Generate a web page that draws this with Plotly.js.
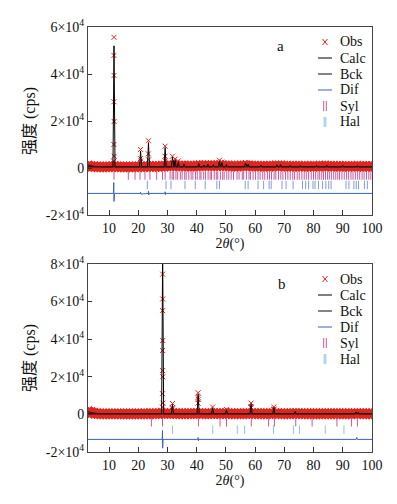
<!DOCTYPE html>
<html><head><meta charset="utf-8">
<script src="https://cdn.plot.ly/plotly-3.0.1.min.js"></script>
<style>html,body{margin:0;padding:0;background:#fff}</style>
</head><body><div id="chart" style="width:397px;height:504px"></div>
<script>
// ---------- Panel a ----------
// observed background, sampled every 1 degree from 3 to 100
var obsBgA = [900,700,600,500,500,450,450,500,
 600,700,500,450,450,500,450,500,500,550,
 600,550,600,700,600,650,700,750,800,900,
 900,1000,900,800,900,850,800,750,800,900,
 900,950,1000,1000,950,900,950,1100,1000,900,
 850,800,750,800,850,900,1000,900,800,800,
 750,800,750,700,750,800,900,850,900,800,
 750,700,750,800,750,700,750,700,700,750,
 700,750,800,850,800,750,700,700,750,700,
 700,650,700,700,750,700,650,700,700,650];
var peakPosA  = [11.7,20.8,23.5,29.2,31.7,32.6,33.7,35.7,40.7,42.5,43.8,45.7,47.8,48.6,50.2,56.7,57.6,62.0,67.5,68.7,72.0,75.5,81.0,84.5,90.0,95.0];
var peakObsA  = [55600,7900,11600,9300,5000,3800,3000,1900,2200,1500,1800,1600,3300,2500,1700,2300,1800,1400,1500,1600,1300,1300,1300,1400,1300,1200];
var peakCalcA = [52000,7200,10800,8700,4600,3400,2700,1700,2000,1300,1600,1400,3000,2300,1500,2100,1600,1200,1300,1400,1100,1100,1100,1200,1100,1000];
var flankXA = [11.62,11.65,11.67,11.68,11.72,11.74,11.76,20.75,20.85,23.45,23.55,29.15,29.25];
var flankYA = [2900,10000,28200,47900,39400,19800,5000,4000,3000,6000,3500,5000,3000];
var calcBaseA = 500;
var bckXA = [2.8,5,8,12,20,30,50,70,100];
var bckYA = [1200,700,500,450,450,500,550,500,450];
var difXA = [2.8,11.5,11.62,11.7,11.8,11.9,20.7,20.8,20.9,23.4,23.5,23.6,23.7,29.1,29.2,29.3,29.4,100];
var difYA = [-10800,-10800,-6200,-14200,-9500,-10800,-10800,-10300,-11100,-10800,-9900,-11500,-10800,-10800,-10100,-11300,-10800,-10800];
var sylPosA = [11.7,16.6,18.9,20.6,22.3,24.0,26.3,28.3,29.2,30.9,31.6,32.1,32.9,33.5,34.4,35.0,35.9,36.4,37.3,38.1,38.7,39.6,40.2,41.1,41.5,42.4,43.0,43.9,44.6,45.1,46.0,46.7,47.2,48.1,48.9,49.4,50.3,51.0,51.8,52.6,53.8,54.5,55.6,56.1,57.0,57.9,58.4,59.3,60.1,61.0,61.7,62.6,63.3,64.2,64.9,65.6,66.5,67.1,68.0,68.8,69.5,70.4,71.2,72.0,72.9,73.5,74.4,75.1,76.0,76.8,77.5,78.3,79.2,80.0,80.7,81.5,82.1,82.8,83.4,84.1,84.8,85.4,86.1,86.9,87.6,88.3,88.9,89.7,90.5,91.3,92.0,92.8,93.5,94.3,95.1,95.8,96.6,97.3,98.1,98.9,99.6];
var halPosA = [23.1,29.5,31.2,36.0,39.5,42.9,46.9,47.8,56.6,57.6,61.0,62.9,64.8,65.5,69.2,70.6,73.0,76.2,77.3,78.3,79.8,80.5,81.7,83.1,84.2,85.2,86.0,91.1,92.1,93.8,94.6,95.4,97.4,98.4];
var sylRowA = -3200, halRowA = -7200;

// ---------- Panel b ----------
var obsBgB = [1500,1000,600,400,300,300,300,300,
 300,300,250,300,300,300,250,300,300,300,
 300,350,300,350,400,350,400,600,500,400,
 400,500,400,350,350,350,400,350,400,500,
 500,400,350,350,400,500,400,350,400,500,
 350,350,350,400,350,350,400,450,500,400,
 350,350,350,350,400,450,500,400,350,350,
 350,350,400,450,400,350,350,350,350,350,
 350,350,350,350,350,350,350,350,350,350,
 350,350,350,400,450,400,350,350,350,350];
var peakPosB  = [28.35,31.7,40.5,45.45,50.2,58.6,66.4,73.7,94.5,95.3];
var peakObsB  = [74600,5800,11500,3900,2700,6000,3900,1800,1500,1400];
var peakCalcB = [86000,5300,10800,3500,2400,5600,3600,1600,1300,1200];
var flankXB = [28.28,28.30,28.32,28.33,28.34,28.37,28.38,28.40,28.42,31.66,31.74,40.45,40.48,40.53,58.55,58.65,66.35,66.45];
var flankYB = [3900,11000,23300,34000,55200,61400,39300,20000,6000,3500,3000,6000,9000,8000,4000,3500,2500,2800];
var calcBaseB = 300;
var bckXB = [2.8,4,6,10,30,60,100];
var bckYB = [1500,900,400,300,300,300,300];
var difXB = [2.8,28.2,28.3,28.35,28.4,28.5,40.4,40.5,40.6,40.7,94.6,94.8,95.0,100];
var difYB = [-13300,-13300,-8500,-18000,-11000,-13300,-13300,-12300,-14000,-13300,-13300,-12300,-13300,-13300];
var sylPosB = [24.5,28.3,40.6,48.0,50.2,58.7,64.6,66.6,73.9,79.5,88.0,93.0,95.0];
var halPosB = [31.7,45.5,53.9,56.4,66.3,73.1,75.2,84.0,90.4];
var sylRowB = -4200, halRowB = -8100;

// ---------- labels ----------
var xTickVals = [10,20,30,40,50,60,70,80,90,100];
var yTickValsA = [-20000,0,20000,40000,60000];
var yTickTextA = ['-2×10<sup>4</sup>','0','2×10<sup>4</sup>','4×10<sup>4</sup>','6×10<sup>4</sup>'];
var yTickValsB = [-20000,0,20000,40000,60000,80000];
var yTickTextB = ['-2×10<sup>4</sup>','0','2×10<sup>4</sup>','4×10<sup>4</sup>','6×10<sup>4</sup>','8×10<sup>4</sup>'];
var names = ['Obs','Calc','Bck','Dif','Syl','Hal'];
var panelLabels = ['a','b'];

var SERIF = 'Liberation Serif, Times New Roman, serif';
var RED = '#e0261f', BLUE = '#3a62c4', SYL = '#c45c9e', HAL = '#8ec3e3', HALA = '#7f9fd4';

function calcLine(pos, vals, base) {
  var x = [2.8], y = [base];
  for (var i = 0; i < pos.length; i++) {
    x.push(pos[i] - 0.35, pos[i], pos[i] + 0.35);
    y.push(base, vals[i], base);
  }
  x.push(100); y.push(base);
  return {x: x, y: y};
}
function rowVals(pos, v) { return pos.map(function () { return v; }); }

function panel(xa, ya, d) {
  var c = calcLine(d.pkPos, d.pkCalc, d.base);
  return [
    {type:'scatter', mode:'markers', x0:3, dx:1, y:d.bg, xaxis:xa, yaxis:ya,
     marker:{symbol:'x', size:10, color:RED, line:{width:0}}, hoverinfo:'skip'},
    {type:'scatter', mode:'markers', x:d.pkPos.concat(d.fx), y:d.pkObs.concat(d.fy), xaxis:xa, yaxis:ya,
     marker:{symbol:'x-thin-open', size:5, color:RED, line:{width:1, color:RED}}},
    {type:'scatter', mode:'lines', x:c.x, y:c.y, xaxis:xa, yaxis:ya, name:names[1],
     line:{color:'#000', width:1}},
    {type:'scatter', mode:'lines', x:d.bckX, y:d.bckY, xaxis:xa, yaxis:ya, name:names[2],
     line:{color:'#222', width:1.2}},
    {type:'scatter', mode:'lines', x:d.difX, y:d.difY, xaxis:xa, yaxis:ya, name:names[3],
     line:{color:BLUE, width:1}},
    {type:'scatter', mode:'markers', x:d.syl, y:rowVals(d.syl, d.sylRow), xaxis:xa, yaxis:ya, name:names[4],
     marker:{symbol:'line-ns-open', size:6, color:SYL, line:{width:1, color:SYL}}},
    {type:'scatter', mode:'markers', x:d.hal, y:rowVals(d.hal, d.halRow), xaxis:xa, yaxis:ya, name:names[5],
     marker:{symbol:'line-ns-open', size:6, color:d.halColor, line:{width:1, color:d.halColor}}}
  ];
}

var traces = panel('x','y',{bg:obsBgA, pkPos:peakPosA, pkObs:peakObsA, pkCalc:peakCalcA, fx:flankXA, fy:flankYA,
  base:calcBaseA, bckX:bckXA, bckY:bckYA, difX:difXA, difY:difYA, syl:sylPosA, hal:halPosA, sylRow:sylRowA, halRow:halRowA, halColor:HALA})
 .concat(panel('x2','y2',{bg:obsBgB, pkPos:peakPosB, pkObs:peakObsB, pkCalc:peakCalcB, fx:flankXB, fy:flankYB,
  base:calcBaseB, bckX:bckXB, bckY:bckYB, difX:difXB, difY:difYB, syl:sylPosB, hal:halPosB, sylRow:sylRowB, halRow:halRowB, halColor:HAL}));

// ---------- manual legend (pixel layout -> paper coords) ----------
var ML = 88, PW = 284, PB = 452, PH = 425;
function px(x) { return (x - ML) / PW; }
function py(y) { return (PB - y) / PH; }
var annotations = [], shapes = [];
function seg(x0, y0, x1, y1, color, w) {
  shapes.push({type:'line', xref:'paper', yref:'paper', x0:px(x0), y0:py(y0), x1:px(x1), y1:py(y1),
    line:{color:color, width:w}});
}
function legendBlock(top, halColor) {
  var step = 16, sx = 325;
  for (var i = 0; i < names.length; i++) {
    var y = top + i * step;
    annotations.push({xref:'paper', yref:'paper', x:px(338), y:py(y), xanchor:'left', yanchor:'middle',
      text:names[i], showarrow:false, font:{family:SERIF, size:14, color:'#111'}});
  }
  var y0 = top;
  seg(sx - 2.5, y0 - 3, sx + 2.5, y0 + 3, RED, 1);
  seg(sx - 2.5, y0 + 3, sx + 2.5, y0 - 3, RED, 1);
  seg(318, top + step, 332, top + step, '#000', 1);
  seg(318, top + 2 * step, 332, top + 2 * step, '#333', 1.2);
  seg(318, top + 3 * step, 332, top + 3 * step, BLUE, 1);
  seg(sx - 1.3, top + 4 * step - 5, sx - 1.3, top + 4 * step + 5, SYL, 1);
  seg(sx + 1.3, top + 4 * step - 5, sx + 1.3, top + 4 * step + 5, SYL, 1);
  seg(sx - 0.8, top + 5 * step - 5, sx - 0.8, top + 5 * step + 5, halColor, 1);
  seg(sx + 0.8, top + 5 * step - 5, sx + 0.8, top + 5 * step + 5, halColor, 1);
}
legendBlock(42, HAL);
legendBlock(279, HAL);
annotations.push({xref:'x', yref:'y', x:68.6, y:51800, text:panelLabels[0], showarrow:false, font:{family:SERIF, size:15, color:'#111'}});
annotations.push({xref:'x2', yref:'y2', x:69.2, y:69500, text:panelLabels[1], showarrow:false, font:{family:SERIF, size:15, color:'#111'}});

function xaxis(anchor) {
  return {anchor:anchor, range:[2.8,100], tickvals:xTickVals, ticks:'inside', ticklen:5, tickcolor:'#333',
    showline:true, mirror:true, linecolor:'#444', linewidth:1, showgrid:false, zeroline:false,
    tickfont:{family:SERIF, size:14, color:'#111'},
    title:{text:'2<i>θ</i>(°)', font:{family:SERIF, size:14, color:'#111'}, standoff:2}};
}
function yaxis(anchor, domain, range, vals, text) {
  return {anchor:anchor, domain:domain, range:range, tickvals:vals, ticktext:text, ticks:'inside', ticklen:4, tickcolor:'#333',
    showline:true, mirror:true, linecolor:'#444', linewidth:1, showgrid:false, zeroline:false,
    tickfont:{family:SERIF, size:14, color:'#111'},
    title:{text:'强度 (cps)', font:{family:SERIF + ', Noto Sans CJK SC', size:16, color:'#111'}, standoff:6}};
}

var layout = {
  width:397, height:504, margin:{l:88, r:25, t:27, b:52},
  paper_bgcolor:'#fff', plot_bgcolor:'#fff', showlegend:false,
  xaxis: xaxis('y'),
  xaxis2: xaxis('y2'),
  yaxis: yaxis('x', [0.5576,1], [-20000,60000], yTickValsA, yTickTextA),
  yaxis2: yaxis('x2', [0,0.4424], [-20000,80000], yTickValsB, yTickTextB),
  annotations: annotations, shapes: shapes
};
Plotly.newPlot('chart', traces, layout, {displayModeBar:false, staticPlot:true});
</script></body></html>
